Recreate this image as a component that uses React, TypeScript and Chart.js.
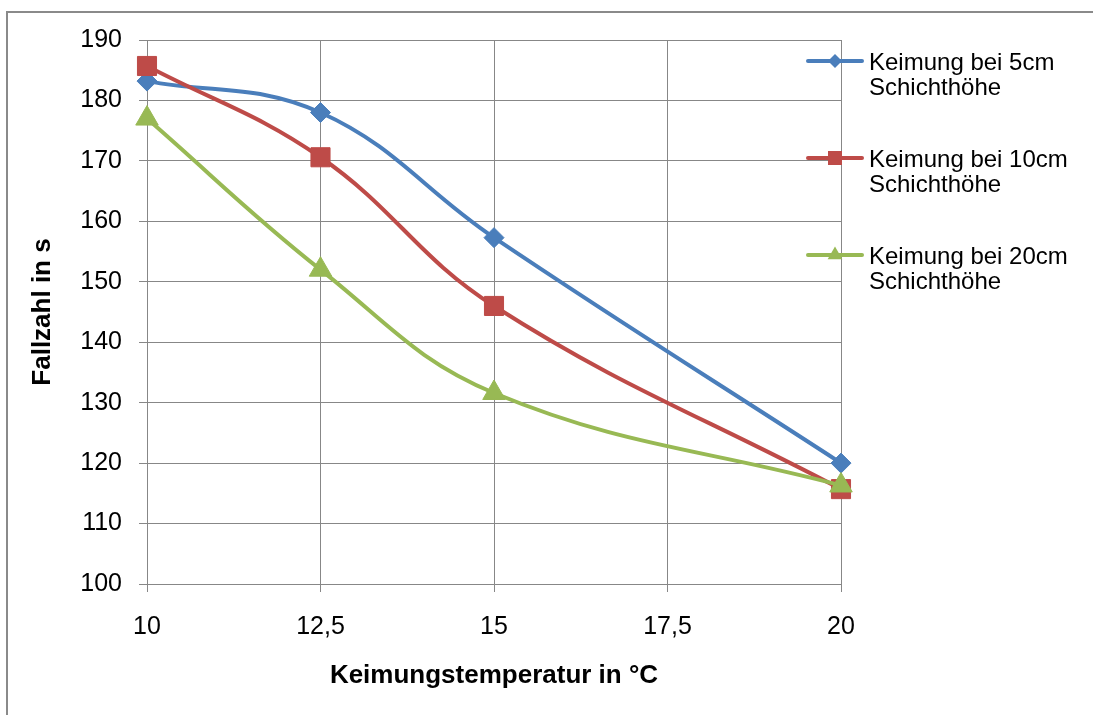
import React, { useEffect, useRef } from 'react';
import { Chart, registerables } from 'chart.js';

Chart.register(...registerables);

// ---- Data ----
const temperatures = [10, 12.5, 15, 20];
const series5cm = [183.2, 178, 157.3, 120];
const series10cm = [185.7, 170.6, 146, 115.7];
const series20cm = [177, 152, 131.6, 116.3];

const seriesLabels5 = ['Keimung bei 5cm', 'Schichthöhe'];
const seriesLabels10 = ['Keimung bei 10cm', 'Schichthöhe'];
const seriesLabels20 = ['Keimung bei 20cm', 'Schichthöhe'];

const xTickValues = [10, 12.5, 15, 17.5, 20];
const xTickLabels = ['10', '12,5', '15', '17,5', '20'];
const yTickValues = [100, 110, 120, 130, 140, 150, 160, 170, 180, 190];
const yTickLabels = ['100', '110', '120', '130', '140', '150', '160', '170', '180', '190'];

const xTitle = 'Keimungstemperatur in °C';
const yTitle = 'Fallzahl in s';

const BLUE = '#4A7EBB';
const RED = '#BE4B48';
const GREEN = '#98B954';
const GRID = '#878787';
const FONT = "'Liberation Sans', Arial, sans-serif";

function toPoints(xs: number[], ys: number[]) {
  return xs.map((x, i) => ({ x, y: ys[i] }));
}

function drawMarker(ctx: CanvasRenderingContext2D, style: string, x: number, y: number, color: string) {
  ctx.save();
  ctx.fillStyle = color;
  ctx.beginPath();
  if (style === 'rectRot') {
    const r = 7;
    ctx.moveTo(x, y - r);
    ctx.lineTo(x + r, y);
    ctx.lineTo(x, y + r);
    ctx.lineTo(x - r, y);
    ctx.closePath();
  } else if (style === 'rect') {
    const s = 7;
    ctx.rect(x - s, y - s, 2 * s, 2 * s);
  } else if (style === 'triangle') {
    const r = 8.5;
    ctx.moveTo(x, y - r);
    ctx.lineTo(x + r * 0.866, y + r * 0.5);
    ctx.lineTo(x - r * 0.866, y + r * 0.5);
    ctx.closePath();
  }
  ctx.fill();
  ctx.restore();
}

const legendPlugin = {
  id: 'customLegend',
  afterDraw(chart: any) {
    const ctx: CanvasRenderingContext2D = chart.ctx;
    const entries = chart.data.datasets;
    const lineX0 = 808;
    const lineX1 = 862;
    const textX = 869;
    const startY = 61;
    const step = 97;
    entries.forEach((ds: any, i: number) => {
      const cy = startY + i * step;
      ctx.save();
      ctx.strokeStyle = ds.borderColor;
      ctx.lineWidth = 4;
      ctx.lineCap = 'round';
      ctx.beginPath();
      ctx.moveTo(lineX0, cy);
      ctx.lineTo(lineX1, cy);
      ctx.stroke();
      ctx.restore();
      drawMarker(ctx, ds.pointStyle, (lineX0 + lineX1) / 2, cy, ds.borderColor);
      ctx.save();
      ctx.fillStyle = '#000';
      ctx.font = `24px ${FONT}`;
      ctx.textBaseline = 'alphabetic';
      ctx.textAlign = 'left';
      const lines: string[] = ds.legendLines;
      lines.forEach((t, j) => {
        ctx.fillText(t, textX, cy + 9 + j * 25);
      });
      ctx.restore();
    });
  },
};

export default function App() {
  const canvasRef = useRef<HTMLCanvasElement | null>(null);

  useEffect(() => {
    const canvas = canvasRef.current;
    if (!canvas) return;
    const chart = new Chart(canvas, {
      type: 'line',
      data: {
        datasets: [
          {
            label: seriesLabels5.join(' '),
            legendLines: seriesLabels5,
            data: toPoints(temperatures, series5cm),
            borderColor: BLUE,
            backgroundColor: BLUE,
            borderWidth: 4,
            pointStyle: 'rectRot',
            pointRadius: 10,
            pointBorderWidth: 1,
            tension: 0.4,
            order: 3,
            clip: false,
          } as any,
          {
            label: seriesLabels10.join(' '),
            legendLines: seriesLabels10,
            data: toPoints(temperatures, series10cm),
            borderColor: RED,
            backgroundColor: RED,
            borderWidth: 4,
            pointStyle: 'rect',
            pointRadius: 13.5,
            pointBorderWidth: 1,
            tension: 0.4,
            order: 2,
            clip: false,
          } as any,
          {
            label: seriesLabels20.join(' '),
            legendLines: seriesLabels20,
            data: toPoints(temperatures, series20cm),
            borderColor: GREEN,
            backgroundColor: GREEN,
            borderWidth: 4,
            pointStyle: 'triangle',
            pointRadius: 13,
            pointBorderWidth: 1,
            tension: 0.4,
            order: 1,
            clip: false,
          } as any,
        ],
      },
      options: {
        responsive: false,
        animation: false,
        events: [],
        layout: { padding: { left: 0, top: 40, right: 252, bottom: 0 } },
        plugins: {
          legend: { display: false },
          tooltip: { enabled: false },
          title: { display: false },
        },
        scales: {
          x: {
            type: 'linear',
            min: xTickValues[0],
            max: xTickValues[xTickValues.length - 1],
            afterBuildTicks: (scale: any) => {
              scale.ticks = xTickValues.map((v) => ({ value: v }));
            },
            afterFit: (scale: any) => {
              scale.height = 131;
            },
            ticks: {
              autoSkip: false,
              maxRotation: 0,
              color: '#000',
              padding: 20,
              font: { family: FONT, size: 25 },
              callback: (value: any) => {
                const idx = xTickValues.indexOf(Number(value));
                return idx >= 0 ? xTickLabels[idx] : '';
              },
            },
            grid: { color: GRID, lineWidth: 1, tickLength: 8, drawTicks: true },
            border: { display: true, color: GRID, width: 1 },
            title: {
              display: true,
              text: xTitle,
              color: '#000',
              font: { family: FONT, size: 26, weight: 'bold' },
              padding: { top: 0, bottom: 24 },
            },
          },
          y: {
            type: 'linear',
            min: yTickValues[0],
            max: yTickValues[yTickValues.length - 1],
            afterBuildTicks: (scale: any) => {
              scale.ticks = yTickValues.map((v) => ({ value: v }));
            },
            afterFit: (scale: any) => {
              scale.width = 147;
            },
            ticks: {
              autoSkip: false,
              color: '#000',
              padding: 17,
              font: { family: FONT, size: 25 },
              callback: (value: any) => {
                const idx = yTickValues.indexOf(Number(value));
                return idx >= 0 ? yTickLabels[idx] : '';
              },
            },
            grid: { color: GRID, lineWidth: 1, tickLength: 8, drawTicks: true },
            border: { display: true, color: GRID, width: 1 },
            title: {
              display: true,
              text: yTitle,
              color: '#000',
              font: { family: FONT, size: 26, weight: 'bold' },
              padding: { top: 27, bottom: 0 },
            },
          },
        },
      } as any,
      plugins: [legendPlugin],
    });
    return () => chart.destroy();
  }, []);

  return (
    <div
      style={{
        position: 'fixed',
        left: 0,
        top: 0,
        width: 1093,
        height: 715,
        background: '#fff',
        overflow: 'hidden',
      }}
    >
      <div
        style={{
          position: 'absolute',
          left: 6,
          top: 11,
          width: 1200,
          height: 800,
          borderTop: '2px solid #8a8a8a',
          borderLeft: '2px solid #8a8a8a',
          boxSizing: 'border-box',
        }}
      />
      <canvas
        ref={canvasRef}
        width={1093}
        height={715}
        style={{ position: 'absolute', left: 0, top: 0, width: 1093, height: 715 }}
      />
    </div>
  );
}
